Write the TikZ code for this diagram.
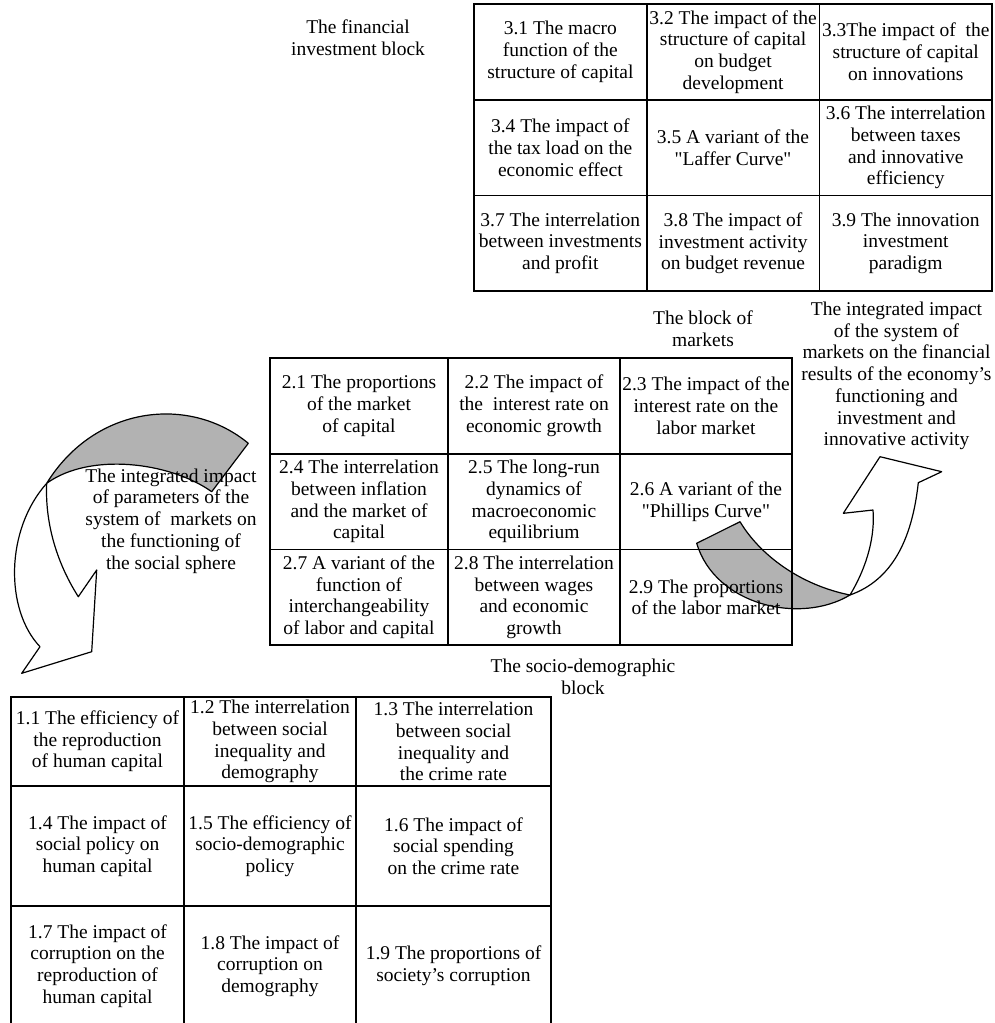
\documentclass[tikz,border=0pt]{standalone}
\usepackage{fontspec}
\setmainfont{Liberation Serif}[Ligatures=TeXOff]
\usepackage{tikz}
\usetikzlibrary{positioning}
\definecolor{ribbongray}{gray}{0.7}
\tikzstyle{cell} = [rectangle, draw=black, line width=1.6pt, align=center, inner sep=1pt, outer sep=0pt]
\tikzstyle{fincell} = [cell, minimum width=172.7pt, minimum height=95.7pt]
\tikzstyle{mktcell} = [cell, minimum width=172pt, minimum height=95.7pt]
\tikzstyle{soccell} = [cell, minimum width=173pt]
\tikzstyle{caption} = [align=center, inner sep=0pt]
\tikzstyle{ribbonback} = [draw=black, line width=1.2pt, line join=round, fill=ribbongray]
\tikzstyle{ribbonfront} = [draw=black, line width=1.2pt, line join=round, fill=white]

\begin{document}
\begin{tikzpicture}[x=1pt, y=-1pt, font=\fontsize{19.5}{21.7}\selectfont]
			\useasboundingbox (0,0) rectangle (994,1023);

			\draw [ribbonback] (248.3,443.3) .. controls (190,395) and (95,405) .. (46.7,483.3) .. controls (90,452) and (170,462) .. (211.7,491.7) -- cycle;
			\draw [ribbonfront] (46.7,483.3) .. controls (5,530) and (5,610) .. (40,646.7) -- (21.7,673.3) -- (91.7,651.7) -- (96.7,570) -- (78.3,596.7) .. controls (55,560) and (45,520) .. (46.7,483.3) -- cycle;
			\draw [ribbonback] (740,521.7) .. controls (760,555) and (800,585) .. (850,595) .. controls (800,625) and (715,605) .. (696.7,543.3) -- cycle;
			\draw [ribbonfront] (850,595) .. controls (868,565) and (875,535) .. (873,510) -- (843.3,513.3) -- (880,456.7) -- (941.7,471.7) -- (918.3,482.7) .. controls (912,540) and (892,580) .. (850,595) -- cycle;

			\node (c31) [fincell] at (560.35,51.85) {3.1 The macro\\function of the\\structure of capital};
			\node (c32) [fincell, right=0pt of c31] {3.2 The impact of the\\structure of capital\\on budget\\development};
			\node (c33) [fincell, right=0pt of c32] {3.3The impact of~ the\\structure of capital\\on innovations};
			\node (c34) [fincell, below=0pt of c31] {3.4 The impact of\\the tax load on the\\economic effect};
			\node (c35) [fincell, right=0pt of c34] {3.5 A variant of the\\"Laffer Curve"};
			\node (c36) [fincell, right=0pt of c35] {3.6 The interrelation\\between taxes\\and innovative\\efficiency};
			\node (c37) [fincell, below=0pt of c34] {3.7 The interrelation\\between investments\\and profit};
			\node (c38) [fincell, right=0pt of c37] {3.8 The impact of\\investment activity\\on budget revenue};
			\node (c39) [fincell, right=0pt of c38] {3.9 The innovation\\investment\\paradigm};

			\node (c21) [mktcell, minimum width=178pt] at (359,405.85) {2.1 The proportions\\of the market\\of capital};
			\node (c22) [mktcell, right=0pt of c21] {2.2 The impact of\\the~ interest rate on\\economic growth};
			\node (c23) [mktcell, right=0pt of c22] {2.3 The impact of the\\interest rate on the\\labor market};
			\node (c24) [mktcell, minimum width=178pt, below=0pt of c21] {2.4 The interrelation\\between inflation\\and the market of\\capital};
			\node (c25) [mktcell, right=0pt of c24] {2.5 The long-run\\dynamics of\\macroeconomic\\equilibrium};
			\node (c26) [mktcell, right=0pt of c25] {2.6 A variant of the\\"Phillips Curve"};
			\node (c27) [mktcell, minimum width=178pt, below=0pt of c24] {2.7 A variant of the\\function of\\interchangeability\\of labor and capital};
			\node (c28) [mktcell, right=0pt of c27] {2.8 The interrelation\\between wages\\and economic\\growth};
			\node (c29) [mktcell, right=0pt of c28] {2.9 The proportions\\of the labor market};

			\node (c11) [soccell, minimum height=89pt] at (97.5,741.5) {1.1 The efficiency of\\the reproduction\\of human capital};
			\node (c12) [soccell, minimum width=172pt, minimum height=89pt, right=0pt of c11] {1.2 The interrelation\\between social\\inequality and\\demography};
			\node (c13) [soccell, minimum width=195pt, minimum height=89pt, right=0pt of c12] {1.3 The interrelation\\between social\\inequality and\\the crime rate};
			\node (c14) [soccell, minimum height=120pt, below=0pt of c11] {1.4 The impact of\\social policy on\\human capital};
			\node (c15) [soccell, minimum width=172pt, minimum height=120pt, right=0pt of c14] {1.5 The efficiency of\\socio-demographic\\policy};
			\node (c16) [soccell, minimum width=195pt, minimum height=120pt, right=0pt of c15] {1.6 The impact of\\social spending\\on the crime rate};
			\node (c17) [soccell, minimum height=120pt, below=0pt of c14] {1.7 The impact of\\corruption on the\\reproduction of\\human capital};
			\node (c18) [soccell, minimum width=172pt, minimum height=120pt, right=0pt of c17] {1.8 The impact of\\corruption on\\demography};
			\node (c19) [soccell, minimum width=195pt, minimum height=120pt, right=0pt of c18] {1.9 The proportions of\\society’s corruption};

			\node (fin) [caption] at (358,38) {The financial\\investment block};
			\node (mkt) [caption] at (703,329) {The block of\\markets};
			\node (soc) [caption] at (583,676.5) {The socio-demographic\\block};
			\node (toinv) [caption] at (896.5,376) {The integrated impact\\of the system of\\markets on the financial\\results of the economy’s\\functioning and\\investment and\\innovative activity};
			\node (tosoc) [caption] at (171,521) {The integrated impact\\of parameters of the\\system of~ markets on\\the functioning of\\the social sphere};
		\end{tikzpicture}
\end{document}
